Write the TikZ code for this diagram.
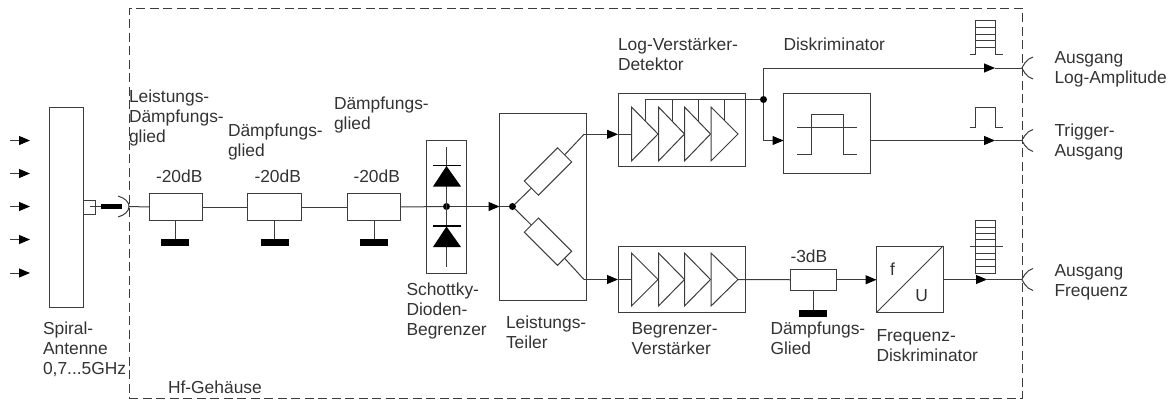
\documentclass[tikz,border=0pt]{standalone}
\usepackage{fontspec}
\setmainfont{Liberation Sans}
\usetikzlibrary{arrows.meta}
\definecolor{ln}{HTML}{3C3C3C}
\definecolor{tx}{HTML}{333333}
\tikzset{
  blk/.style={draw=ln,line width=1pt,fill=none,inner sep=0pt,outer sep=0pt},
  wire/.style={draw=ln,line width=1pt},
  arr/.style={wire,-{Triangle[length=11pt,width=9pt,color=black]},shorten >=0pt},
  gnd/.style={fill=black,draw=none,inner sep=0pt,outer sep=0pt,minimum width=28pt,minimum height=7pt},
  dotn/.style={circle,fill=black,draw=none,inner sep=0pt,minimum size=7pt},
  lab/.style={anchor=base west,inner sep=0pt,outer sep=0pt,text=tx,font=\fontsize{17.4}{20}\selectfont},
  labc/.style={lab,anchor=base},
}
\begin{document}
\begin{tikzpicture}[x=1pt,y=-1pt]
\useasboundingbox (0,0) rectangle (1176,400);
% housing
\node[draw=ln,line width=1pt,dash pattern=on 9pt off 4.5pt,inner sep=0pt,minimum width=893pt,minimum height=390pt] (housing) at (575.5,203) {};
% antenna
\node[blk,minimum width=33.5pt,minimum height=200pt] (ant) at (66.25,207) {};
\node[blk,minimum width=12.5pt,minimum height=14pt,anchor=west] (feed) at (ant.east) {};
\foreach \n/\y in {1/140.5,2/173.5,3/206.5,4/239.5,5/273}{
  \coordinate (ins\n) at (10,\y);
  \coordinate (ine\n) at (30,\y);
  \draw[arr] (ins\n) -- (ine\n);
}
\coordinate (pa) at (90,206.5);
\coordinate (pb) at (101,206.5);
\coordinate (pc) at (122,206.5);
\coordinate (jack) at (129,206.5);
\draw[wire] (pa) -- (pb);
\draw[line width=5pt,draw=black] (pb) -- (pc);
\draw[wire] (118,196) .. controls (125,198) and (129,202) .. (jack) .. controls (129,211) and (125,215) .. (118,217);
% attenuators
\foreach \n/\cx/\w/\bx in {1/175.5/53/175,2/274.5/54/274.5,3/373.5/53/374}{
  \node[blk,minimum width=\w pt,minimum height=27pt] (att\n) at (\cx,207) {};
  \node[gnd] (g\n) at (\bx,242.5) {};
  \draw[wire] (\bx,220.5) -- (g\n.north);
}
\draw[wire] (jack) -- (att1.west);
\draw[wire] (att1.east) -- (att2.west);
\draw[wire] (att2.east) -- (att3.west);
% limiter
\node[blk,minimum width=39.5pt,minimum height=132.5pt] (lim) at (446.25,206.75) {};
\node[dotn] (limdot) at (446.5,206.5) {};
\coordinate (limt) at (446.5,147);
\coordinate (limb) at (446.5,267);
\draw[wire] (limt) -- (limb);
\foreach \t in {165.5,226}{
  \draw[line width=1.5pt,draw=black] (433,\t) -- (461,\t);
  \fill[black] (446.5,\t+0.5) -- (461,\t+21) -- (433,\t+21) -- cycle;
}
\draw[wire] (att3.east) -- (limdot);
% divider
\node[blk,minimum width=86.5pt,minimum height=186.5pt] (div) at (542.75,206.75) {};
\node[dotn] (divdot) at (512.5,206.5) {};
\draw[arr] (limdot) -- (div.west |- limdot);
\draw[wire] (div.west |- limdot) -- (divdot);
\node[blk,minimum width=47pt,minimum height=20pt,rotate=45] (ru) at (548,171.5) {};
\node[blk,minimum width=47pt,minimum height=20pt,rotate=-45] (rl) at (548,241.7) {};
\coordinate (du) at (584,134.3);
\coordinate (dl) at (584,279.5);
\draw[wire] (divdot) -- (ru.west);
\draw[wire] (ru.east) -- (du);
\draw[wire] (divdot) -- (rl.west);
\draw[wire] (rl.east) -- (dl);
% log amp
\node[blk,minimum width=127pt,minimum height=72.5pt] (lamp) at (681.5,129.75) {};
\foreach \a/\b in {631.5/658,658.5/684.5,684.5/710.5,711/738}{
  \draw[wire] (\a,107) -- (\b,134) -- (\a,161) -- cycle;
}
\coordinate (lin) at (631.5,134.3);
\draw[arr] (du) -- (lamp.west |- du);
\draw[wire] (lamp.west |- du) -- (lin);
\node[dotn] (ldot) at (763.5,99.5) {};
\coordinate (fb) at (645,99.5);
\draw[wire] (ldot) -- (fb) -- (645,120.7);
\draw[wire] (672,99.5) -- (672,120.7);
\draw[wire] (698,99.5) -- (698,120.7);
\draw[wire] (724.5,99.5) -- (724.5,120.7);
% discriminator
\node[blk,minimum width=86.5pt,minimum height=79.5pt] (disc) at (826.75,133.25) {};
\coordinate (lup) at (763.5,68);
\coordinate (ldn) at (763.5,140.5);
\draw[wire] (ldot) -- (lup);
\draw[wire] (ldot) -- (ldn);
\draw[arr] (ldn) -- (disc.west |- ldn);
\draw[wire] (797,127) -- (857,127);
\draw[wire] (797,154) -- (811,154) -- (811,114) -- (843,114) -- (843,154) -- (857,154);
% outputs
\coordinate (o1) at (1022,68);
\coordinate (o2) at (1022,140.5);
\coordinate (o3) at (1022,279.5);
\coordinate (t1) at (995,68);
\coordinate (t2) at (995,140.5);
\coordinate (t3) at (987,279.5);
\draw[arr] (lup) -- (t1);
\draw[wire] (t1) -- (o1);
\draw[arr] (disc.east |- t2) -- (t2);
\draw[wire] (t2) -- (o2);
\foreach \o in {o1,o2,o3}{
  \draw[wire] ([shift={(11,-11)}]\o) .. controls ([shift={(4,-9.5)}]\o) and (\o) .. (\o) .. controls (\o) and ([shift={(4,9.5)}]\o) .. ([shift={(11,11)}]\o);
}
% signal icons
\draw[wire] (969.5,54) -- (975,54) -- (975,20.5) -- (995.5,20.5) -- (995.5,54) -- (1002.5,54);
\foreach \y in {27,34,40.5,47}{\draw[wire] (975,\y) -- (995.5,\y);}
\draw[wire] (969.5,127) -- (975,127) -- (975,107) -- (995.5,107) -- (995.5,127) -- (1002.5,127);
\draw[wire] (975,220.5) rectangle (995.5,273);
\foreach \y in {227,233,239.5,253,259.5,266}{\draw[wire] (975,\y) -- (995.5,\y);}
\draw[wire] (969.5,246) -- (1002.5,246);
% limiter amp
\node[blk,minimum width=127pt,minimum height=66pt] (bamp) at (681.5,279) {};
\foreach \a/\b in {631.5/658,658.5/684.5,684.5/710.5,711/738}{
  \draw[wire] (\a,253) -- (\b,279.5) -- (\a,306) -- cycle;
}
\coordinate (bin) at (631.5,279.5);
\coordinate (bout) at (738,279.5);
\draw[arr] (dl) -- (bamp.west |- dl);
\draw[wire] (bamp.west |- dl) -- (bin);
% -3dB
\node[blk,minimum width=46pt,minimum height=20.5pt] (att4) at (813.5,279.75) {};
\node[gnd] (g4) at (813,313) {};
\draw[wire] (att4.south -| g4) -- (g4.north);
\draw[wire] (bout) -- (att4.west);
% f/U
\node[blk,minimum width=66.5pt,minimum height=66.5pt] (fu) at (909.75,279.25) {};
\draw[wire] (fu.south west) -- (fu.north east);
\draw[arr] (att4.east) -- (fu.west |- att4.east);
\draw[arr] (fu.east |- t3) -- (t3);
\draw[wire] (t3) -- (o3);
\node[labc] (tf) at (892.5,275) {f};
\node[labc] (tu) at (921.7,301.5) {U};
% labels
\node[lab] (l1) at (129,102) {Leistungs-};
\node[lab] (l2) at (129,122) {Dämpfungs-};
\node[lab] (l3) at (129,142) {glied};
\node[lab] (l4) at (228,136) {Dämpfungs-};
\node[lab] (l5) at (228,156) {glied};
\node[lab] (l6) at (334,109) {Dämpfungs-};
\node[lab] (l7) at (334,129) {glied};
\node[lab] (d1) at (156,182) {-20dB};
\node[lab] (d2) at (254.5,182) {-20dB};
\node[lab] (d3) at (353.5,182) {-20dB};
\node[lab] (s1) at (43,334) {Spiral-};
\node[lab] (s2) at (43,354) {Antenne};
\node[lab] (s3) at (43,374) {0,7...5GHz};
\node[lab] (hf) at (168,393) {Hf-Gehäuse};
\node[lab] (sc1) at (406.5,295) {Schottky-};
\node[lab] (sc2) at (406.5,315) {Dioden-};
\node[lab] (sc3) at (406.5,335) {Begrenzer};
\node[lab] (lt1) at (506,328) {Leistungs-};
\node[lab] (lt2) at (506,348) {Teiler};
\node[lab] (lv1) at (618,50) {Log-Verstärker-};
\node[lab] (lv2) at (618,70) {Detektor};
\node[lab] (di) at (783.5,50) {Diskriminator};
\node[lab] (bv1) at (631.5,334) {Begrenzer-};
\node[lab] (bv2) at (631.5,354) {Verstärker};
\node[lab] (d4) at (790.5,262) {-3dB};
\node[lab] (dg1) at (770.5,334) {Dämpfungs-};
\node[lab] (dg2) at (770.5,354) {Glied};
\node[lab] (fd1) at (876.5,341) {Frequenz-};
\node[lab] (fd2) at (876.5,361) {Diskriminator};
\node[lab] (a1) at (1054.5,63) {Ausgang};
\node[lab] (a2) at (1054.5,83) {Log-Amplitude};
\node[lab] (a3) at (1054.5,136) {Trigger-};
\node[lab] (a4) at (1054.5,156) {Ausgang};
\node[lab] (a5) at (1054.5,276) {Ausgang};
\node[lab] (a6) at (1054.5,296) {Frequenz};
\end{tikzpicture}
\end{document}
